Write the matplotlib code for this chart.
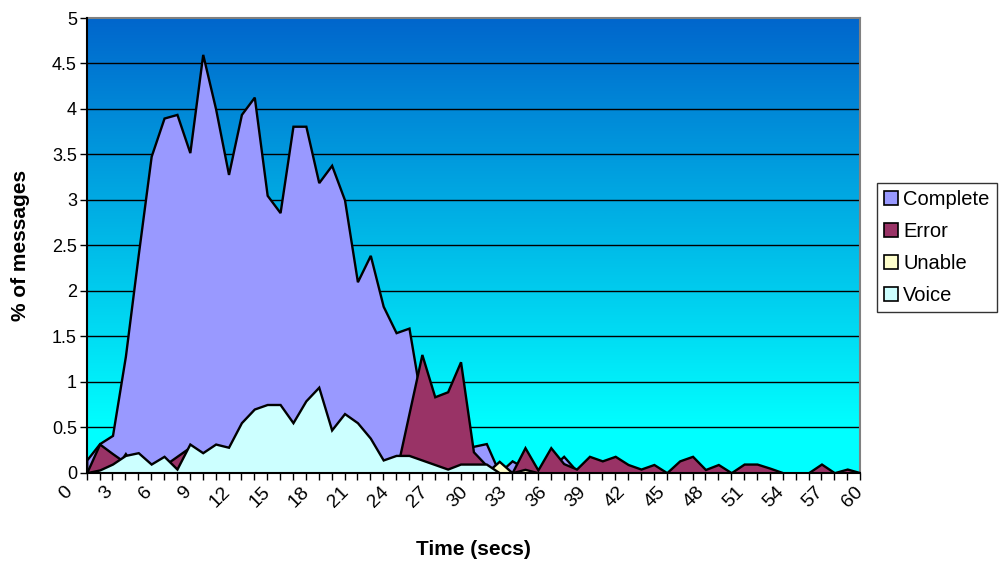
import numpy as np
import matplotlib
matplotlib.use("Agg")
import matplotlib.pyplot as plt
import matplotlib.transforms as mtransforms
from matplotlib.patches import Patch

plt.rcParams['font.family'] = ['Liberation Sans', 'DejaVu Sans']

# Message outcome distribution by response time (seconds), % of messages
seconds = list(range(61))

complete = [0.14, 0.32, 0.41, 1.28, 2.40, 3.48, 3.90, 3.94, 3.52, 4.60,
            4.00, 3.28, 3.94, 4.13, 3.05, 2.86, 3.81, 3.81, 3.19, 3.38,
            3.00, 2.10, 2.39, 1.83, 1.54, 1.59, 0.75, 0.55, 0.45, 0.35,
            0.29, 0.32, 0.00, 0.13, 0.05, 0.02, 0.05, 0.18, 0.02, 0.00,
            0.00, 0.00, 0.00, 0.00, 0.00, 0.00, 0.00, 0.00, 0.00, 0.00,
            0.00, 0.00, 0.00, 0.00, 0.00, 0.00, 0.00, 0.00, 0.00, 0.00,
            0.00]

error = [0.00, 0.315, 0.21, 0.11, 0.10, 0.05, 0.08, 0.18, 0.28, 0.10,
         0.05, 0.15, 0.20, 0.10, 0.15, 0.10, 0.20, 0.10, 0.15, 0.10,
         0.05, 0.10, 0.05, 0.05, 0.00, 0.65, 1.30, 0.835, 0.89, 1.22,
         0.23, 0.08, 0.00, 0.00, 0.275, 0.03, 0.275, 0.10, 0.04, 0.18,
         0.13, 0.18, 0.09, 0.04, 0.09, 0.00, 0.13, 0.18, 0.035, 0.09,
         0.00, 0.095, 0.095, 0.05, 0.00, 0.00, 0.00, 0.095, 0.00, 0.04,
         0.00]

unable = [0.0] * 61
unable[3] = 0.21
unable[32] = 0.125
unable[34] = 0.037

voice = [0.00, 0.03, 0.095, 0.19, 0.22, 0.095, 0.18, 0.04, 0.315, 0.22,
         0.315, 0.28, 0.55, 0.70, 0.75, 0.75, 0.55, 0.79, 0.94, 0.47,
         0.65, 0.55, 0.38, 0.14, 0.19, 0.19, 0.14, 0.09, 0.04, 0.095,
         0.095, 0.095, 0.00, 0.00, 0.00, 0.00, 0.00, 0.00, 0.00, 0.00,
         0.00, 0.00, 0.00, 0.00, 0.00, 0.00, 0.00, 0.00, 0.00, 0.00,
         0.00, 0.00, 0.00, 0.00, 0.00, 0.00, 0.00, 0.00, 0.00, 0.00,
         0.00]

series_names = ["Complete", "Error", "Unable", "Voice"]
series_colors = ["#9999FF", "#993366", "#FFFFCC", "#CCFFFF"]
series_values = [complete, error, unable, voice]

fig = plt.figure(figsize=(9.99, 5.63), dpi=100)
ax = fig.add_axes([0.0868, 0.1604, 0.7742, 0.8076])

x = np.array(seconds)
ymax = 5.0

# vertical two-colour gradient behind the plot (dark blue -> cyan)
top = np.array([0, 102, 204]) / 255.0
bottom = np.array([0, 255, 255]) / 255.0
t = np.clip(np.linspace(0, 1, 256) / 0.9, 0, 1)[:, None]
grad = (top[None, :] * (1 - t) + bottom[None, :] * t)[:, None, :]
ax.imshow(grad, extent=[x[0], x[-1], 0, ymax], aspect='auto',
          origin='upper', zorder=0, interpolation='bilinear')

for yv in np.arange(0.5, ymax, 0.5):
    ax.axhline(yv, color='black', lw=1.0, zorder=1)

for i, (name, col, vals) in enumerate(zip(series_names, series_colors, series_values)):
    ax.fill_between(x, 0, vals, facecolor=col, edgecolor='black',
                    linewidth=1.7, zorder=2 + i, joinstyle='miter')

ax.set_xlim(x[0], x[-1])
ax.set_ylim(0, ymax)

ax.set_yticks(np.arange(0, ymax + 0.01, 0.5))
ax.set_yticklabels([f"{v:g}" for v in np.arange(0, ymax + 0.01, 0.5)])
ax.set_xticks(x)
ax.set_xticklabels([str(s) if s % 3 == 0 else "" for s in seconds],
                   rotation=45, ha='right', va='center', rotation_mode='anchor')

ax.tick_params(axis='both', direction='out', length=5, width=1,
               color='black')
ax.tick_params(axis='y', labelsize=13, pad=2)
ax.tick_params(axis='x', labelsize=14, pad=7)

# slanted category labels sit a little left of their ticks, less so to the right
for s, lab in zip(seconds, ax.get_xticklabels()):
    dx = -12.0 * (1 - s / seconds[-1]) / 72.0
    lab.set_transform(lab.get_transform() +
                      mtransforms.ScaledTranslation(dx, 0, fig.dpi_scale_trans))

for side in ('top', 'right'):
    ax.spines[side].set_color('#808080')
    ax.spines[side].set_linewidth(1.5)
for side in ('left', 'bottom'):
    ax.spines[side].set_color('black')
    ax.spines[side].set_linewidth(1.5)
    ax.spines[side].set_zorder(10)

ax.set_xlabel("Time (secs)", fontsize=15, fontweight='bold', labelpad=21)
ax.set_ylabel("% of messages", fontsize=15, fontweight='bold', labelpad=16)

handles = [Patch(facecolor=c, edgecolor='black', linewidth=1.2, label=n)
           for n, c in zip(series_names, series_colors)]
leg = fig.legend(handles=handles, loc='upper left',
                 bbox_to_anchor=(877 / 999, 1 - 183 / 563),
                 fontsize=14.5, frameon=True, fancybox=False,
                 handlelength=0.7, handleheight=0.7, handletextpad=0.25,
                 labelspacing=0.64, borderpad=0.35, borderaxespad=0.0)
leg.get_frame().set_edgecolor('black')
leg.get_frame().set_linewidth(1.0)

fig.savefig("out.png", dpi=100)
